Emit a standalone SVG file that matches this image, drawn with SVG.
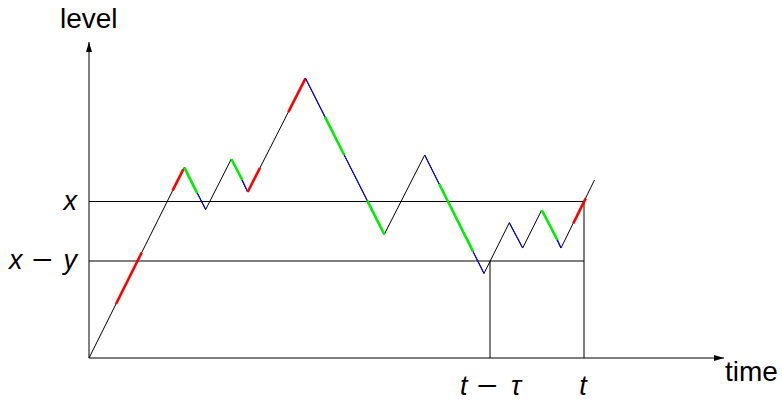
<svg xmlns="http://www.w3.org/2000/svg" width="782" height="401" viewBox="0 0 782 401">
<defs>
<style>
.ax{stroke:#000;stroke-width:1;fill:none}
.k{stroke:#000;stroke-width:1;fill:none}
.b{stroke:#0000ff;stroke-width:1.1;fill:none}
.r{stroke:#ff0000;stroke-width:2.6;fill:none}
.g{stroke:#00ee00;stroke-width:2.6;fill:none}
.lbl{font-family:"Liberation Sans",Arial,sans-serif;font-size:28px;fill:#000}
.m{font-family:"Liberation Sans",Arial,sans-serif;font-size:27px;font-style:italic;fill:#000}
.up{font-family:"Liberation Sans",Arial,sans-serif;font-size:27px;font-style:normal;fill:#000}
</style>
<marker id="ah" viewBox="0 0 10 6" refX="10" refY="3" markerWidth="10" markerHeight="6" markerUnits="userSpaceOnUse" orient="auto">
<path d="M0,0 L10,3 L0,6 Z" fill="#000"/>
</marker>
</defs>
<rect width="782" height="401" fill="#fff"/>
<g id="axes">
<line class="ax" x1="89" y1="358" x2="89" y2="42" marker-end="url(#ah)"/>
<line class="ax" x1="89" y1="358" x2="724" y2="358" marker-end="url(#ah)"/>
</g>
<g id="guides">
<line class="k" x1="89" y1="201.5" x2="584" y2="201.5"/>
<line class="k" x1="89" y1="261" x2="584" y2="261"/>
<line class="k" x1="490" y1="261" x2="490" y2="358"/>
<line class="k" x1="584" y1="201.5" x2="584" y2="358"/>
</g>
<g id="path">
<polyline class="k" points="89,358 184.3,167.3 205.7,209.5 231.3,159 247.7,192 305.5,78.3 384.3,234.3 424.7,155 484,273.4 509.3,222.7 522.7,248 541.7,210 561,248 594.5,180"/>
<line class="r" x1="116" y1="304" x2="141.7" y2="252.6"/>
<line class="r" x1="172.6" y1="190.7" x2="183.3" y2="169.3"/>
<line class="g" x1="184.3" y1="167.3" x2="197.3" y2="193.3"/>
<line class="b" x1="197.3" y1="193.3" x2="205.7" y2="209.5"/>
<line class="g" x1="231.3" y1="159" x2="242.3" y2="180"/>
<line class="b" x1="242.3" y1="180" x2="247.7" y2="192"/>
<line class="r" x1="247.7" y1="192" x2="260" y2="167.8"/>
<line class="r" x1="288.3" y1="112.1" x2="305.5" y2="78.3"/>
<line class="b" x1="305.5" y1="78.3" x2="325" y2="116.9"/>
<line class="g" x1="325" y1="116.9" x2="344.2" y2="155"/>
<line class="b" x1="344.2" y1="155" x2="367.3" y2="200.7"/>
<line class="g" x1="367.3" y1="200.7" x2="384.3" y2="234.3"/>
<line class="b" x1="424.7" y1="155" x2="439.2" y2="184"/>
<line class="g" x1="439.2" y1="184" x2="473.1" y2="251.7"/>
<line class="b" x1="473.1" y1="251.7" x2="484" y2="273.4"/>
<line class="b" x1="509.3" y1="222.7" x2="522.7" y2="248"/>
<line class="g" x1="541.7" y1="210" x2="557.5" y2="240"/>
<line class="b" x1="557.5" y1="240" x2="561" y2="248"/>
<line class="r" x1="573.3" y1="223.4" x2="585.7" y2="198.3"/>
</g>
<g id="labels">
<text class="lbl" x="60" y="28">level</text>
<text class="lbl" x="725" y="381">time</text>
<text class="m" x="77" y="210" text-anchor="end">x</text>
<text class="m" x="9" y="269">x</text>
<text class="up" x="32" y="269" textLength="21" lengthAdjust="spacingAndGlyphs">−</text>
<text class="m" x="77" y="269" text-anchor="end">y</text>
<text class="m" x="460" y="395">t</text>
<text class="up" x="477" y="395" textLength="21" lengthAdjust="spacingAndGlyphs">−</text>
<text class="m" x="521" y="395" text-anchor="end">τ</text>
<text class="m" x="583" y="395" text-anchor="middle">t</text>
</g>
</svg>
